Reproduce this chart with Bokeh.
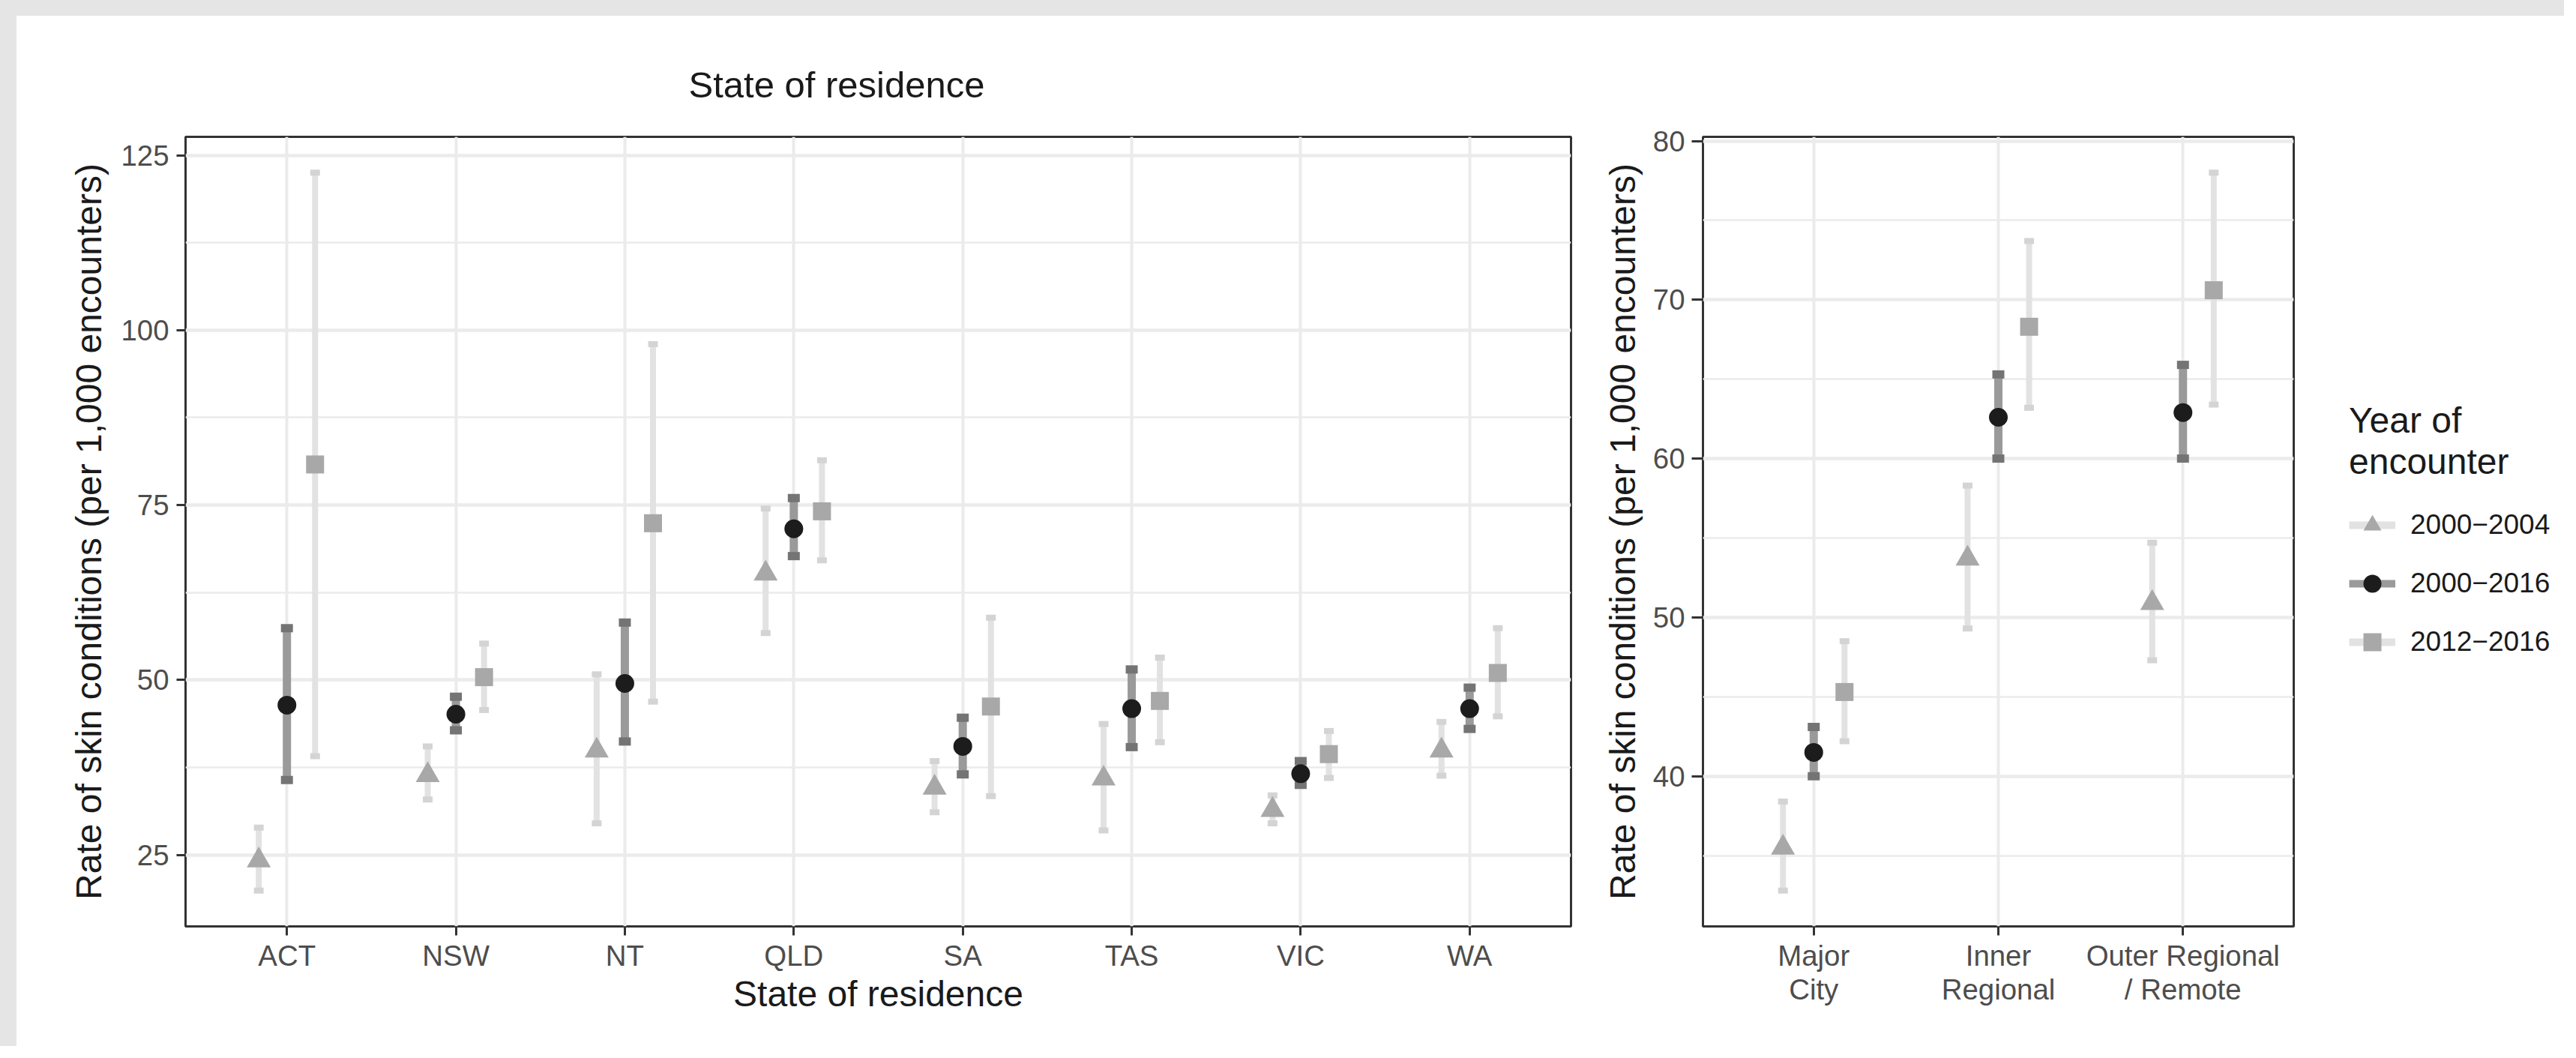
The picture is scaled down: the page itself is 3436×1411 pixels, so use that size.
from bokeh.plotting import figure
from bokeh.models import Range1d, FixedTicker, Legend, LegendItem, ColumnDataSource, Spacer
from bokeh.layouts import row, column
from bokeh.embed import file_html
from bokeh.resources import INLINE

# ---------------- data ----------------
states = ["ACT", "NSW", "NT", "QLD", "SA", "TAS", "VIC", "WA"]
series = ["2000\u22122004", "2000\u22122016", "2012\u22122016"]

state_rate_0004 = [24.2, 36.4, 39.9, 65.2, 34.6, 35.9, 31.4, 39.9]
state_lo_0004 = [19.9, 32.9, 29.5, 56.7, 31.1, 28.5, 29.5, 36.3]
state_hi_0004 = [28.9, 40.5, 50.8, 74.5, 38.4, 43.7, 33.5, 44.0]
state_rate_0016 = [46.4, 45.1, 49.5, 71.6, 40.5, 45.9, 36.6, 45.9]
state_lo_0016 = [35.7, 42.8, 41.2, 67.7, 36.5, 40.4, 35.0, 43.0]
state_hi_0016 = [57.4, 47.6, 58.2, 76.0, 44.6, 51.5, 38.4, 48.9]
state_rate_1216 = [80.8, 50.4, 72.4, 74.1, 46.2, 47.0, 39.4, 51.0]
state_lo_1216 = [39.1, 45.7, 46.9, 67.1, 33.4, 41.1, 36.0, 44.8]
state_hi_1216 = [122.5, 55.2, 98.0, 81.4, 58.9, 53.2, 42.7, 57.4]

regions = ["Major\nCity", "Inner\nRegional", "Outer Regional\n/ Remote"]
reg_rate_0004 = [35.5, 53.7, 50.9]
reg_lo_0004 = [32.8, 49.3, 47.3]
reg_hi_0004 = [38.4, 58.3, 54.7]
reg_rate_0016 = [41.5, 62.6, 62.9]
reg_lo_0016 = [40.0, 60.0, 60.0]
reg_hi_0016 = [43.1, 65.3, 65.9]
reg_rate_1216 = [45.3, 68.3, 70.6]
reg_lo_1216 = [42.2, 63.2, 63.4]
reg_hi_1216 = [48.5, 73.7, 78.0]

left_y_ticks = [25, 50, 75, 100, 125]
left_y_minor = [37.5, 62.5, 87.5, 112.5]
right_y_ticks = [40, 50, 60, 70, 80]
right_y_minor = [35, 45, 55, 65, 75]

title_text = "State of residence"
x_title = "State of residence"
y_title = "Rate of skin conditions (per 1,000 encounters)"
legend_title = "Year of\nencounter"

# ---------------- styles ----------------
FONT = "Liberation Sans"
GRID = "#ebebeb"
BORDER = "#333333"
TICKTXT = "#4d4d4d"
TXT = "#1a1a1a"
BG = "#e5e5e5"

offsets = [-1 / 6, 0.0, 1 / 6]
markers = ["triangle", "circle", "square"]
m_sizes = [32, 25, 24]
pt_cols = ["#a8a8a8", "#1c1c1c", "#a8a8a8"]
bar_cols = ["#e2e2e2", "#9a9a9a", "#e2e2e2"]
cap_cols = ["#d4d4d4", "#747474", "#d4d4d4"]
bar_w = [8, 11, 8]
cap_w = [13, 16, 13]


def style(p, xticks, labels, yticks, yminor, tick_out_y):
    p.background_fill_color = "white"
    p.border_fill_color = "white"
    p.outline_line_color = BORDER
    p.outline_line_width = 3
    p.xaxis.ticker = FixedTicker(ticks=xticks)
    p.xaxis.major_label_overrides = {t: l for t, l in zip(xticks, labels)}
    p.yaxis.ticker = FixedTicker(ticks=yticks, minor_ticks=yminor)
    for ax in (p.xaxis[0], p.yaxis[0]):
        ax.axis_line_color = None
        ax.major_tick_line_color = BORDER
        ax.major_tick_line_width = 3
        ax.major_tick_in = 0
        ax.minor_tick_line_color = None
        ax.major_label_text_font = FONT
        ax.major_label_text_font_size = "38.4px"
        ax.major_label_text_color = TICKTXT
        ax.axis_label_text_font = FONT
        ax.axis_label_text_font_size = "48px"
        ax.axis_label_text_font_style = "normal"
        ax.axis_label_text_color = TXT
    p.xaxis.major_tick_out = 12
    p.yaxis.major_tick_out = tick_out_y
    p.xgrid.grid_line_color = GRID
    p.xgrid.grid_line_width = 4
    p.ygrid.grid_line_color = GRID
    p.ygrid.grid_line_width = 4.5
    p.ygrid.minor_grid_line_color = GRID
    p.ygrid.minor_grid_line_width = 2.5


def draw(p, n, rates, los, his):
    for i in range(3):
        xs = [k + 1 + offsets[i] for k in range(n)]
        src = ColumnDataSource(dict(x=xs, y=rates[i], lo=los[i], hi=his[i]))
        p.segment(x0="x", y0="lo", x1="x", y1="hi", source=src,
                  line_color=bar_cols[i], line_width=bar_w[i], line_cap="butt")
        for key in ("lo", "hi"):
            p.rect(x="x", y=key, width=cap_w[i], height=bar_w[i],
                   width_units="screen", height_units="screen", source=src,
                   fill_color=cap_cols[i], line_color=None)
        p.scatter(x="x", y="y", source=src, marker=markers[i], size=m_sizes[i],
                  fill_color=pt_cols[i], line_color=None)


# ---------------- left panel ----------------
p1 = figure(width=2100, height=1374, x_range=Range1d(0.4, 8.6), y_range=Range1d(14.77, 127.63),
            output_backend="svg", toolbar_location=None,
            min_border_left=225, min_border_right=27, min_border_top=161, min_border_bottom=118)
style(p1, list(range(1, len(states) + 1)), states, left_y_ticks, left_y_minor, 12)
p1.xaxis.major_label_standoff = 5
p1.xaxis.axis_label = x_title
p1.xaxis.axis_label_standoff = 0
p1.yaxis.axis_label = y_title
p1.yaxis.major_label_standoff = 10
p1.yaxis.axis_label_standoff = 13
p1.title.text = title_text
p1.title.align = "left"
p1.title.offset = 671
p1.title.standoff = 86
p1.title.text_font = FONT
p1.title.text_font_size = "49px"
p1.title.text_font_style = "normal"
p1.title.text_color = TXT
p1.title.vertical_align = "bottom"
draw(p1, len(states),
     [state_rate_0004, state_rate_0016, state_rate_1216],
     [state_lo_0004, state_lo_0016, state_lo_1216],
     [state_hi_0004, state_hi_0016, state_hi_1216])

# ---------------- right panel ----------------
p2 = figure(width=947, height=1374, x_range=Range1d(0.4, 3.6), y_range=Range1d(30.54, 80.26),
            output_backend="svg", toolbar_location=None,
            min_border_left=149, min_border_right=10, min_border_top=161, min_border_bottom=160)
style(p2, list(range(1, len(regions) + 1)), regions, right_y_ticks, right_y_minor, 15)
p2.xaxis.major_label_standoff = 5
p2.xaxis.major_label_text_line_height = 1.05
p2.yaxis.axis_label = y_title
p2.yaxis.major_label_standoff = 9
p2.yaxis.axis_label_standoff = 11
draw(p2, len(regions),
     [reg_rate_0004, reg_rate_0016, reg_rate_1216],
     [reg_lo_0004, reg_lo_0016, reg_lo_1216],
     [reg_hi_0004, reg_hi_0016, reg_hi_1216])

# ---------------- legend area ----------------
p3 = figure(width=351, height=1374, x_range=Range1d(0, 1), y_range=Range1d(0, 1),
            output_backend="svg", toolbar_location=None,
            x_axis_location=None, y_axis_location=None,
            min_border_left=0, min_border_right=0, min_border_top=0, min_border_bottom=0)
p3.outline_line_color = None
p3.xgrid.visible = False
p3.ygrid.visible = False
p3.background_fill_color = "white"
p3.border_fill_color = "white"
items = []
for i in range(3):
    # keys only: one point placed outside the visible range
    seg = p3.segment(x0=[-5], y0=[-5], x1=[-4], y1=[-5], line_color=bar_cols[i], line_width=10,
                     line_cap="butt")
    sc = p3.scatter(x=[-5], y=[-5], marker=markers[i], size=m_sizes[i],
                    fill_color=pt_cols[i], line_color=None)
    items.append(LegendItem(label=series[i], renderers=[seg, sc]))
legend = Legend(items=items, location=(64, 349), title=legend_title,
                title_text_font=FONT, title_text_font_size="48px", title_text_font_style="normal",
                title_text_color=TXT, title_text_line_height=1.05, title_standoff=27,
                label_text_font=FONT, label_text_font_size="37px", label_text_color=TXT,
                glyph_width=62, glyph_height=60, label_standoff=20, spacing=18,
                padding=10, margin=0, border_line_color=None, background_fill_alpha=0)
p3.add_layout(legend)

top = Spacer(width=3420, height=21, styles={"background-color": BG})
side = Spacer(width=22, height=1374, styles={"background-color": BG})
layout = column(top, row(side, p1, p2, p3))

open("out.html", "w").write(file_html(layout, INLINE))
